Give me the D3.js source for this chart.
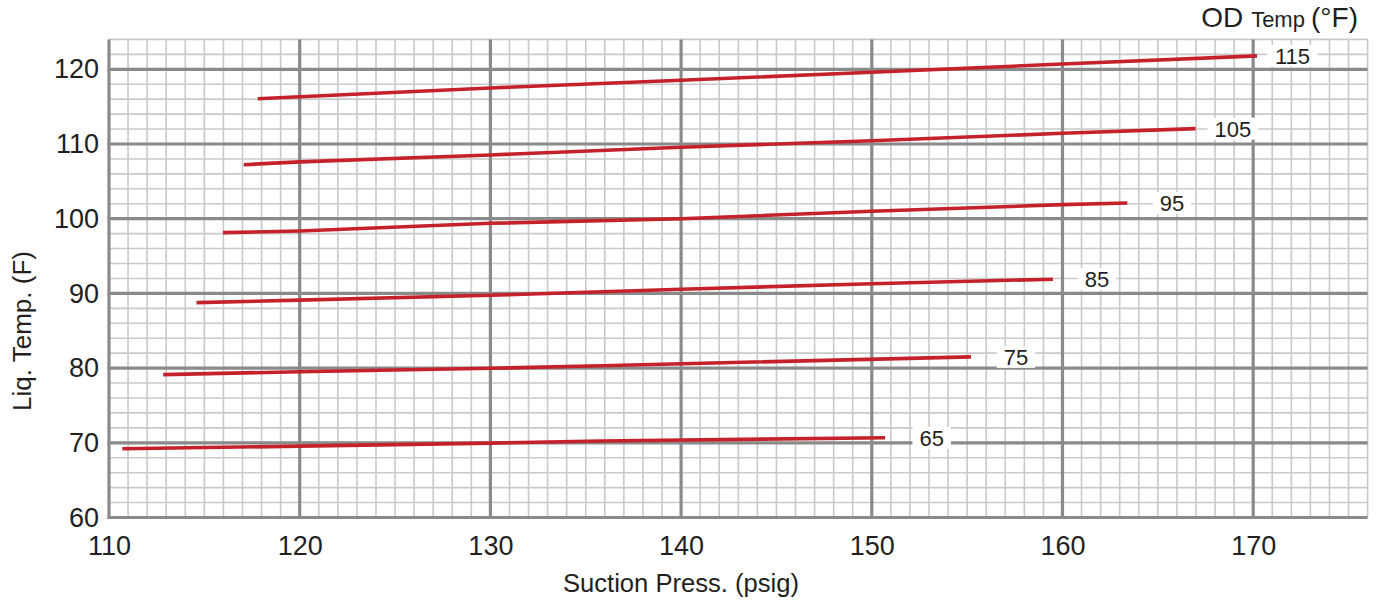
<!DOCTYPE html>
<html>
<head>
<meta charset="utf-8">
<script src="https://cdn.jsdelivr.net/npm/d3@7"></script>
<style>
  html, body { margin: 0; padding: 0; background: #fff; }
  svg { display: block; font-family: "Liberation Sans", Arial, Helvetica, sans-serif; }
</style>
</head>
<body>
<svg id="chart" width="1377" height="602"></svg>
<script>
// ---- data ----
const odTemps = [65, 75, 85, 95, 105, 115];
const psig65 = [110.7, 120, 130, 135.8, 150.7];
const liq65  = [69.2, 69.55, 69.95, 70.25, 70.67];
const psig75 = [112.84, 120, 130, 135.8, 155.2];
const liq75  = [79.12, 79.52, 79.97, 80.32, 81.5];
const psig85 = [114.59, 120, 130, 140, 150, 159.5];
const liq85  = [88.76, 89.1, 89.75, 90.55, 91.3, 91.9];
const psig95 = [115.98, 120, 130, 140, 150, 160, 163.4];
const liq95  = [98.13, 98.35, 99.38, 100.0, 100.99, 101.88, 102.1];
const psig105 = [117.07, 120, 130, 140, 150, 160, 166.98];
const liq105  = [107.23, 107.6, 108.53, 109.56, 110.44, 111.43, 112.05];
const psig115 = [117.8, 120, 130, 140, 150, 160, 170.2];
const liq115  = [116.06, 116.33, 117.5, 118.53, 119.6, 120.7, 121.8];
const labelPsig = [153.14, 157.56, 161.81, 165.74, 168.93, 172.06];
const xTicks = [110, 120, 130, 140, 150, 160, 170];
const yTicks = [60, 70, 80, 90, 100, 110, 120];
const xDomain = [110, 176];
const yDomain = [60, 124];

const psigs = [psig65, psig75, psig85, psig95, psig105, psig115];
const liqs = [liq65, liq75, liq85, liq95, liq105, liq115];
const series = odTemps.map((t, i) => ({
  temp: t,
  labelX: labelPsig[i],
  points: psigs[i].map((p, j) => ({ p, l: liqs[i][j] }))
}));

// ---- layout ----
const svg = d3.select("#chart");
const x = d3.scaleLinear().domain(xDomain).range([109, 1367.6]);
const y = d3.scaleLinear().domain(yDomain).range([517.5, 39.4]);

const minorColor = "#c9c9c9", majorColor = "#8a8a8a", textColor = "#231f20";
const g = svg.append("g");

// minor grid
const minorX = d3.range(xDomain[0] + 1, xDomain[1] + 1, 1).filter(v => v % 10 !== 0);
const minorY = d3.range(yDomain[0] + 2, yDomain[1] + 1, 2).filter(v => v % 10 !== 0);
g.selectAll(".mx").data(minorX).join("line")
  .attr("x1", d => x(d)).attr("x2", d => x(d))
  .attr("y1", y(yDomain[0])).attr("y2", y(yDomain[1]))
  .attr("stroke", minorColor).attr("stroke-width", 1.6);
g.selectAll(".my").data(minorY).join("line")
  .attr("x1", x(xDomain[0])).attr("x2", x(xDomain[1]))
  .attr("y1", d => y(d)).attr("y2", d => y(d))
  .attr("stroke", minorColor).attr("stroke-width", 1.6);

// major grid
g.selectAll(".Mx").data(xTicks).join("line")
  .attr("x1", d => x(d)).attr("x2", d => x(d))
  .attr("y1", y(yDomain[0]) + 1.5).attr("y2", y(yDomain[1]))
  .attr("stroke", majorColor).attr("stroke-width", 3.2);
g.selectAll(".My").data(yTicks).join("line")
  .attr("x1", x(xDomain[0]) - 1.5).attr("x2", x(xDomain[1]))
  .attr("y1", d => y(d)).attr("y2", d => y(d))
  .attr("stroke", majorColor).attr("stroke-width", 3.2);

// axes tick labels via d3 axes (no domain/ticks lines)
const xAxis = svg.append("g")
  .attr("transform", `translate(0,${y(yDomain[0])})`)
  .call(d3.axisBottom(x).tickValues(xTicks).tickSize(0).tickPadding(18));
xAxis.select(".domain").remove();
xAxis.selectAll("text").attr("font-size", 27).attr("fill", textColor)
  .attr("font-family", '"Liberation Sans", Arial, sans-serif');

const yAxis = svg.append("g")
  .attr("transform", `translate(${x(xDomain[0])},0)`)
  .call(d3.axisLeft(y).tickValues(yTicks).tickSize(0).tickPadding(10));
yAxis.select(".domain").remove();
yAxis.selectAll("text").attr("font-size", 27).attr("fill", textColor)
  .attr("font-family", '"Liberation Sans", Arial, sans-serif');

// lines
const line = d3.line().x(d => x(d.p)).y(d => y(d.l));
svg.append("g").selectAll("path").data(series).join("path")
  .attr("d", d => line(d.points))
  .attr("fill", "none").attr("stroke", "#c5212b")
  .attr("stroke-width", 3.6).attr("stroke-linecap", "butt");

// labels
const lab = svg.append("g").selectAll("g").data(series).join("g")
  .attr("transform", d => `translate(${x(d.labelX)},${y(d.points[d.points.length - 1].l)})`);
lab.append("rect")
  .attr("x", d => -(String(d.temp).length * 12.2) / 2 - 7)
  .attr("width", d => String(d.temp).length * 12.2 + 14)
  .attr("y", -11).attr("height", 22)
  .attr("fill", "#fff");
lab.append("text")
  .attr("text-anchor", "middle").attr("dy", "0.36em")
  .attr("font-size", 22).attr("fill", textColor)
  .text(d => d.temp);

// axis titles
svg.append("text")
  .attr("x", 681).attr("y", 592)
  .attr("text-anchor", "middle").attr("font-size", 25.6).attr("fill", textColor)
  .text("Suction Press. (psig)");
svg.append("text")
  .attr("transform", "translate(31,331) rotate(-90)")
  .attr("text-anchor", "middle").attr("font-size", 26).attr("fill", textColor)
  .text("Liq. Temp. (F)");

const od = svg.append("text")
  .attr("x", 1358).attr("y", 27)
  .attr("text-anchor", "end").attr("fill", textColor);
od.append("tspan").attr("font-size", 28).text("OD ");
od.append("tspan").attr("font-size", 22).text("Temp ");
od.append("tspan").attr("font-size", 28).text("(°F)");
</script>
</body>
</html>
